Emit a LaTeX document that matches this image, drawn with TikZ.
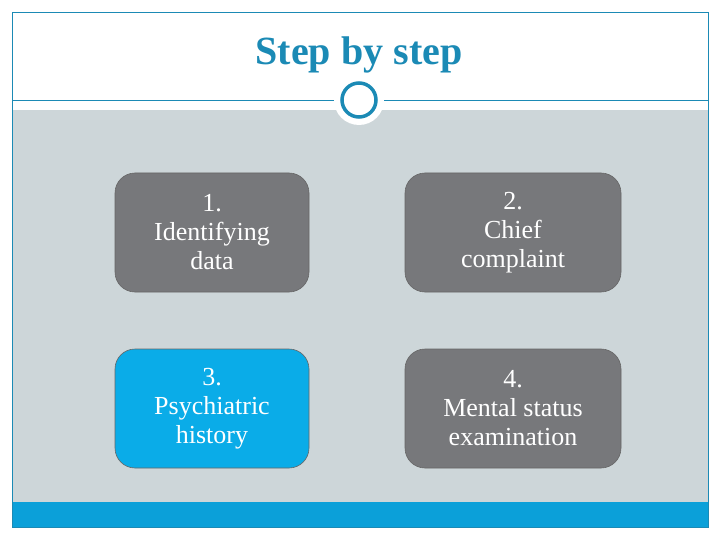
\documentclass[tikz,border=0pt]{standalone}
\usepackage{fontspec}
\setmainfont{Liberation Serif}
\definecolor{teal1}{HTML}{1B8AB5}
\definecolor{boxgray}{HTML}{77787B}
\definecolor{boxblue}{HTML}{0AACE8}
\definecolor{bggray}{HTML}{CDD6D9}
\definecolor{barblue}{HTML}{0BA0D9}
\begin{document}
\begin{tikzpicture}[x=1pt,y=-1pt,
  stepbox/.style={draw=black!60,line width=0.6pt,rounded corners=20pt,minimum height=119pt,text=white,font=\fontsize{26}{29}\selectfont,align=center,inner sep=0pt}]
\useasboundingbox (0,0) rectangle (720,540);
\fill[white] (0,0) rectangle (720,540);
\fill[bggray] (12,110) rectangle (708,502);
\fill[barblue] (12,502) rectangle (708,527);
\draw[teal1,line width=0.8pt] (12,12) rectangle (708,527);
\draw[teal1,line width=0.8pt] (12,100) -- (708,100);
\node[font=\fontsize{40}{44}\selectfont\bfseries,text=teal1] (title) at (359,55) {Step by step};
\fill[white] (359,100) circle (25);
\node[circle,draw=teal1,line width=3.5pt,minimum size=34pt,inner sep=0pt] (ring) at (359,100) {};
\node[stepbox,fill=boxgray,minimum width=194pt] (s1) at (212,232.5) {1.\\Identifying\\data};
\node[stepbox,fill=boxgray,minimum width=216pt] (s2) at (513,232.5) {2.\\Chief\\complaint};
\node[stepbox,fill=boxblue,minimum width=194pt] (s3) at (212,408.5) {3.\\Psychiatric\\history};
\node[stepbox,fill=boxgray,minimum width=216pt] (s4) at (513,408.5) {4.\\Mental status\\examination};
\end{tikzpicture}
\end{document}
